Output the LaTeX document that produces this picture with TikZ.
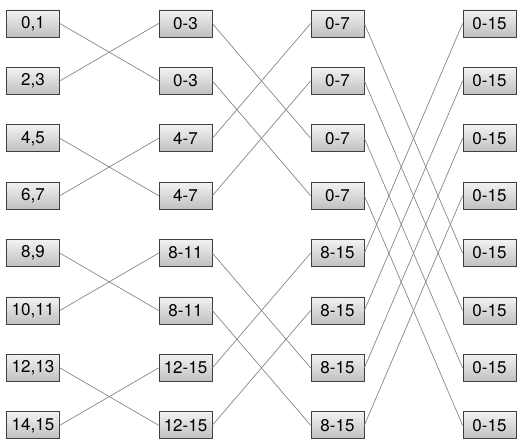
\documentclass[tikz,border=0pt]{standalone}
\usepackage{fontspec}
\setsansfont{TeX Gyre Heros}
\usetikzlibrary{positioning}

\begin{document}
\begin{tikzpicture}[x=1pt, y=1pt,
  blk/.style={draw=black!75, line width=0.7pt, top color=gray!10, bottom color=gray!50,
              minimum width=53pt, minimum height=27pt, inner sep=0pt,
              font=\sffamily\fontsize{17}{20}\selectfont},
  wire/.style={draw=gray, line width=0.65pt}]
\useasboundingbox (0,0) rectangle (523,-446);

% stage columns
\foreach \lbl [count=\i from 0] in {{0,1},{2,3},{4,5},{6,7},{8,9},{10,11},{12,13},{14,15}}
  \node[blk] (a\i) at (33,-23.5-57.4*\i) {\lbl};
\foreach \lbl [count=\i from 0] in {0-3,0-3,4-7,4-7,8-11,8-11,12-15,12-15}
  \node[blk] (b\i) at (185.5,-23.5-57.4*\i) {\lbl};
\foreach \lbl [count=\i from 0] in {0-7,0-7,0-7,0-7,8-15,8-15,8-15,8-15}
  \node[blk] (c\i) at (337.5,-23.5-57.4*\i) {\lbl};
\foreach \i in {0,...,7}
  \node[blk] (d\i) at (489.5,-23.5-57.4*\i) {0-15};

% butterfly wires
\foreach \i/\j in {0/1,1/0,2/3,3/2,4/5,5/4,6/7,7/6}
  \draw[wire] (a\i.east) -- (b\j.west);
\foreach \i/\j in {0/2,1/3,2/0,3/1,4/6,5/7,6/4,7/5}
  \draw[wire] (b\i.east) -- (c\j.west);
\foreach \i/\j in {0/4,1/5,2/6,3/7,4/0,5/1,6/2,7/3}
  \draw[wire] (c\i.east) -- (d\j.west);
\end{tikzpicture}
\end{document}
